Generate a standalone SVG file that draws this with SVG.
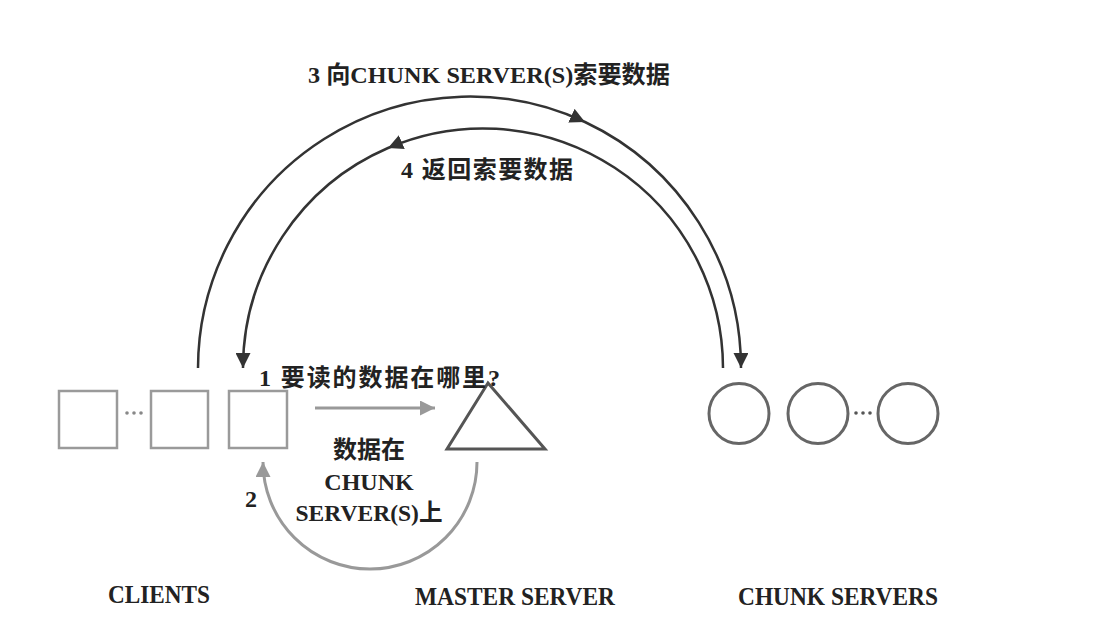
<svg xmlns="http://www.w3.org/2000/svg" width="1106" height="632" viewBox="0 0 1106 632">
<style>
text{font-family:"Liberation Serif","Noto Sans CJK SC",serif;font-size:24px;fill:#222;font-weight:bold;}
.lbl{font-size:26px;}
.sq{fill:#fff;stroke:#9a9a9a;stroke-width:2.5;}
.ci{fill:#fff;stroke:#666;stroke-width:3;}
.dark{fill:none;stroke:#333;stroke-width:2.5;}
.grey{fill:none;stroke:#999;stroke-width:3;}
</style>
<defs>
<marker id="ad" viewBox="0 0 10 10" refX="10" refY="5" markerUnits="userSpaceOnUse" markerWidth="15" markerHeight="15" orient="auto"><path d="M0,0 L10,5 L0,10 Z" fill="#333"/></marker>
<marker id="ag" viewBox="0 0 10 10" refX="10" refY="5" markerUnits="userSpaceOnUse" markerWidth="15" markerHeight="15" orient="auto"><path d="M0,0 L10,5 L0,10 Z" fill="#999"/></marker>
</defs>
<rect width="1106" height="632" fill="#fff"/>
<g id="connectors">
<path class="dark" d="M198,368 A272,272 0 0 1 585,122 A272,272 0 0 1 741,368" marker-mid="url(#ad)" marker-end="url(#ad)"/>
<path class="dark" d="M723,368 A240,240 0 0 0 388,148 A240,240 0 0 0 243,368" marker-mid="url(#ad)" marker-end="url(#ad)"/>
<path class="grey" d="M315,408 L435,408" marker-end="url(#ag)"/>
<path class="grey" d="M477,462 A107,107 0 0 1 263,462" marker-end="url(#ag)"/>
</g>
<g id="clients">
<rect class="sq" x="59" y="391" width="58" height="57"/>
<rect class="sq" x="151" y="391" width="57" height="57"/>
<rect class="sq" x="229" y="391" width="58" height="57"/>
<circle cx="127" cy="413" r="1.8" fill="#888"/><circle cx="134" cy="413" r="1.8" fill="#888"/><circle cx="141" cy="413" r="1.8" fill="#888"/>
<text class="lbl" x="108" y="603" textLength="102" lengthAdjust="spacingAndGlyphs">CLIENTS</text>
</g>
<g id="master">
<polygon points="488,383 447,449 545,449" fill="#fff" stroke="#555" stroke-width="3" stroke-linejoin="miter"/>
<text class="lbl" x="415" y="605" textLength="200" lengthAdjust="spacingAndGlyphs">MASTER SERVER</text>
</g>
<g id="chunkservers">
<circle class="ci" cx="739" cy="413.5" r="30"/>
<circle class="ci" cx="818" cy="413.5" r="30"/>
<circle class="ci" cx="908" cy="413.5" r="30"/>
<circle cx="856" cy="413" r="1.8" fill="#555"/><circle cx="863" cy="413" r="1.8" fill="#555"/><circle cx="870" cy="413" r="1.8" fill="#555"/>
<text class="lbl" x="738" y="605" textLength="200" lengthAdjust="spacingAndGlyphs">CHUNK SERVERS</text>
</g>
<g id="labels">
<text x="308" y="83" textLength="362" lengthAdjust="spacingAndGlyphs">3 向CHUNK SERVER(S)索要数据</text>
<text x="401" y="178" textLength="172">4 返回索要数据</text>
<text x="259" y="386" textLength="241">1 要读的数据在哪里?</text>
<text x="369" y="458" text-anchor="middle">数据在</text>
<text x="369" y="490" text-anchor="middle">CHUNK</text>
<text x="369" y="521" text-anchor="middle" textLength="147" lengthAdjust="spacingAndGlyphs">SERVER(S)上</text>
<text x="245" y="507">2</text>
</g>
</svg>
